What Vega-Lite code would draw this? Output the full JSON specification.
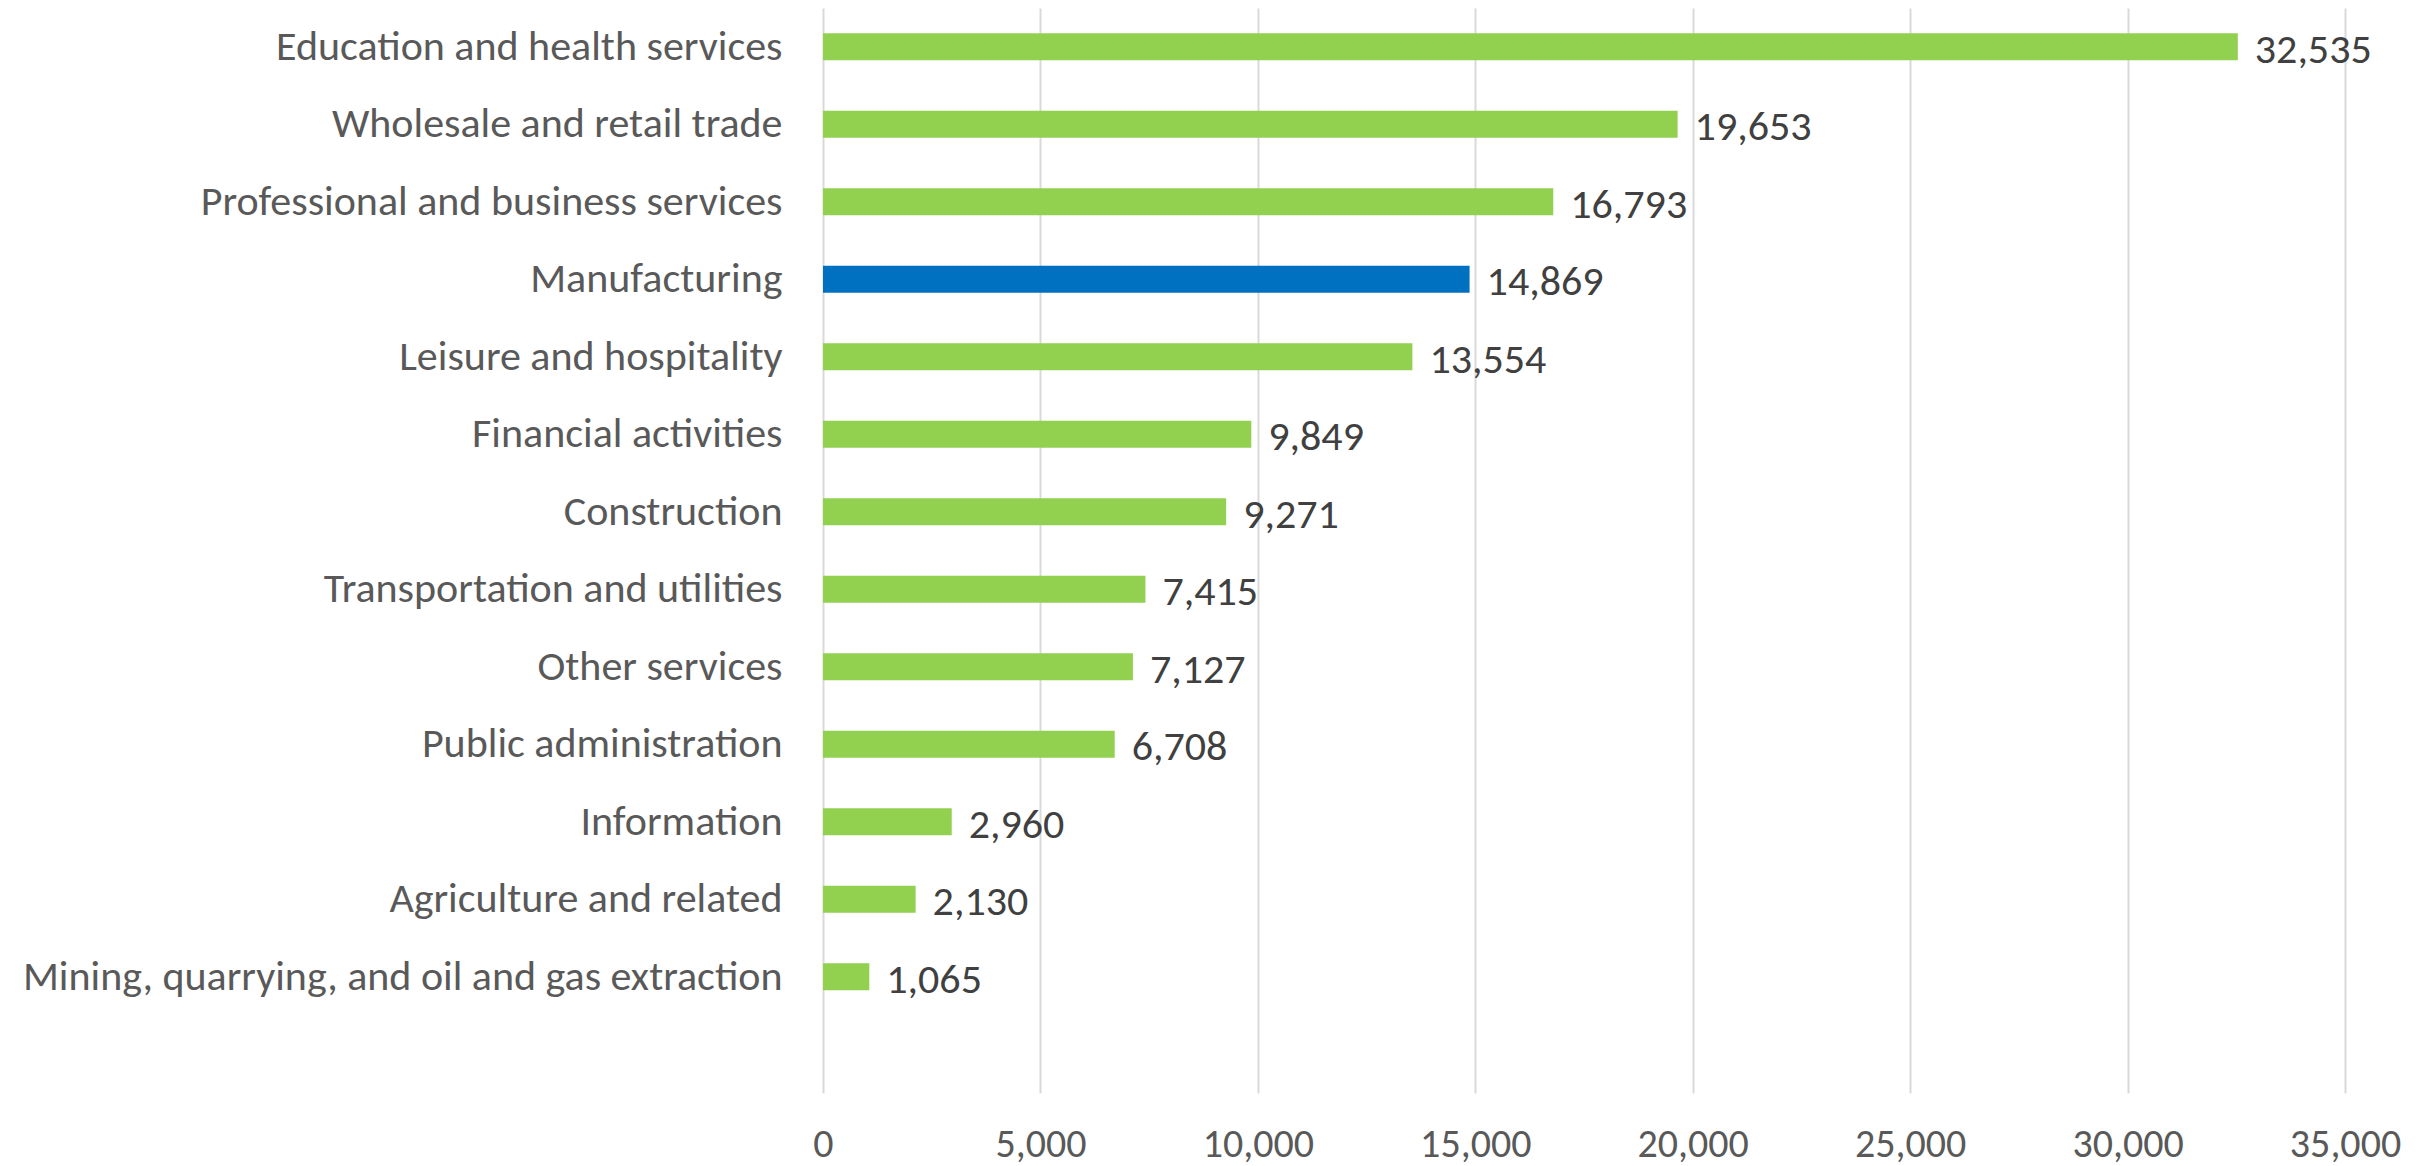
{
  "$schema": "https://vega.github.io/schema/vega-lite/v6.json",
  "width": 1522,
  "height": 1085,
  "autosize": {"type": "none"},
  "padding": {"left": 823, "top": 8, "right": 90, "bottom": 73},
  "background": "white",
  "config": {
    "view": {"stroke": null},
    "font": "Carlito, Lato"
  },
  "data": {
    "values": [
      {"industry": "Education and health services", "employed": 32535},
      {"industry": "Wholesale and retail trade", "employed": 19653},
      {"industry": "Professional and business services", "employed": 16793},
      {"industry": "Manufacturing", "employed": 14869},
      {"industry": "Leisure and hospitality", "employed": 13554},
      {"industry": "Financial activities", "employed": 9849},
      {"industry": "Construction", "employed": 9271},
      {"industry": "Transportation and utilities", "employed": 7415},
      {"industry": "Other services", "employed": 7127},
      {"industry": "Public administration", "employed": 6708},
      {"industry": "Information", "employed": 2960},
      {"industry": "Agriculture and related", "employed": 2130},
      {"industry": "Mining, quarrying, and oil and gas extraction", "employed": 1065}
    ]
  },
  "encoding": {
    "y": {
      "field": "industry",
      "type": "nominal",
      "sort": null,
      "scale": {
        "domain": ["Education and health services", "Wholesale and retail trade", "Professional and business services", "Manufacturing", "Leisure and hospitality", "Financial activities", "Construction", "Transportation and utilities", "Other services", "Public administration", "Information", "Agriculture and related", "Mining, quarrying, and oil and gas extraction", " "],
        "paddingInner": 0.65,
        "paddingOuter": 0.325
      },
      "axis": {
        "title": null,
        "domain": false,
        "ticks": false,
        "labelPadding": 41,
        "labelFontSize": 42,
        "labelColor": "#595959",
        "labelLimit": 0,
        "labelFont": "Carlito, Lato"
      }
    },
    "x": {
      "field": "employed",
      "type": "quantitative",
      "scale": {"domain": [0, 35000], "nice": false},
      "axis": {
        "title": null,
        "domain": false,
        "ticks": false,
        "values": [0, 5000, 10000, 15000, 20000, 25000, 30000, 35000],
        "format": ",d",
        "grid": true,
        "gridColor": "#d9d9d9",
        "gridWidth": 2,
        "labelBaseline": "alphabetic",
        "labelPadding": 63,
        "labelFontSize": 40,
        "labelColor": "#595959",
        "labelFont": "Carlito, Lato",
        "labelFlush": false
      }
    }
  },
  "layer": [
    {
      "mark": {"type": "bar"},
      "encoding": {
        "color": {
          "condition": {"test": "datum.industry === 'Manufacturing'", "value": "#0070c0"},
          "value": "#92d050"
        }
      }
    },
    {
      "mark": {"type": "text", "align": "left", "baseline": "middle", "dx": 17, "dy": 3, "fontSize": 42, "color": "#404040", "font": "Carlito, Lato"},
      "encoding": {
        "text": {"field": "employed", "type": "quantitative", "format": ",d"}
      }
    }
  ]
}
